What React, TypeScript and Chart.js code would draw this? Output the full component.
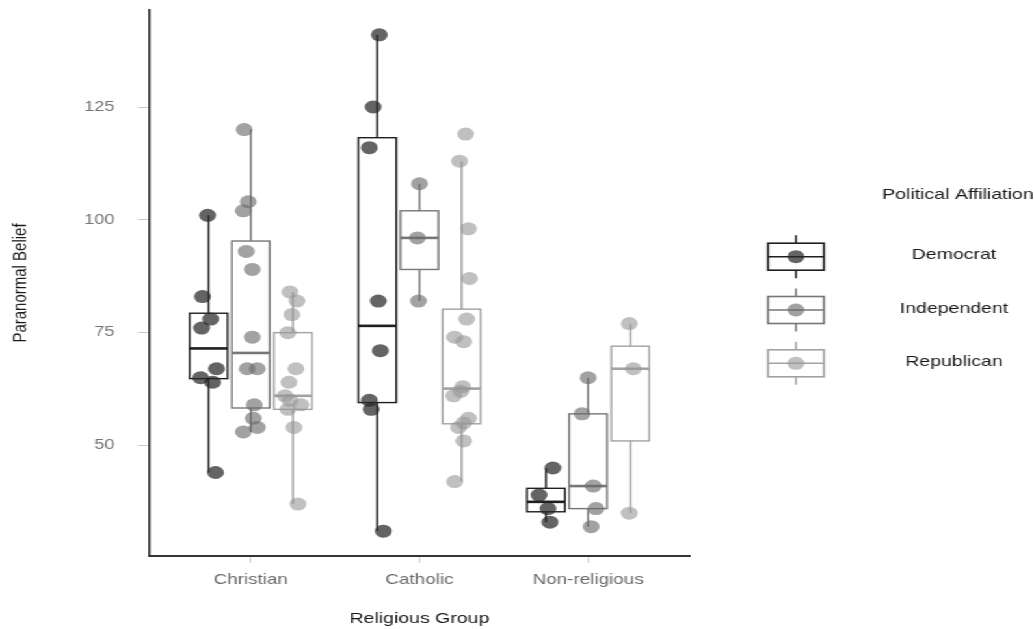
import React, { useEffect, useRef } from "react";
import { Chart, registerables } from "chart.js";

Chart.register(...registerables);

const categories = ["Christian", "Catholic", "Non-religious"];
const affiliations = ["Democrat", "Independent", "Republican"];
const yTickValues = [50, 75, 100, 125];

// Paranormal belief scores per religious group (Christian, Catholic, Non-religious)
const democratScores = [
  [101, 83, 78, 76, 67, 65, 64, 44],
  [141, 125, 116, 82, 71, 60, 58, 31],
  [45, 39, 36, 33],
];
const democratJitter = [
  [-0.006, -0.036, 0.012, -0.041, 0.047, -0.047, 0.024, 0.041],
  [0.012, -0.024, -0.047, 0.006, 0.018, -0.047, -0.036, 0.036],
  [0.041, -0.041, 0.012, 0.024],
];
const independentScores = [
  [120, 104, 102, 93, 89, 74, 67, 67, 59, 56, 54, 53],
  [108, 96, 82],
  [65, 57, 41, 36, 32],
];
const independentJitter = [
  [-0.039, -0.015, -0.044, -0.027, 0.009, 0.009, -0.021, 0.039, 0.021, 0.015, 0.039, -0.044],
  [0, -0.012, -0.006],
  [0, -0.036, 0.03, 0.047, 0.018],
];
const republicanScores = [
  [84, 82, 79, 75, 67, 64, 61, 60, 59, 58, 54, 37],
  [119, 113, 98, 87, 78, 74, 73, 63, 62, 61, 56, 55, 54, 51, 42],
  [77, 67, 35],
];
const republicanJitter = [
  [-0.018, 0.024, -0.006, -0.03, 0.018, -0.024, -0.047, -0.018, 0.047, -0.03, 0.006, 0.03],
  [0.024, -0.012, 0.041, 0.047, 0.03, -0.041, 0.012, 0.006, -0.006, -0.047, 0.041, 0.012, -0.018, 0.012, -0.041],
  [-0.006, 0.018, -0.006],
];

// Box statistics: [lower whisker, Q1, median, Q3, upper whisker]
const democratBoxes = [
  [44, 64.8, 71.5, 79.3, 101],
  [31, 59.5, 76.5, 118.2, 141],
  [33, 35.3, 37.5, 40.5, 45],
];
const independentBoxes = [
  [53, 58.3, 70.5, 95.3, 120],
  [82, 89, 96, 102, 108],
  [32, 36, 41, 57, 65],
];
const republicanBoxes = [
  [37, 58, 61, 75, 84],
  [42, 54.8, 62.6, 80.2, 113],
  [35, 51, 67, 72, 77],
];

const allScores = [democratScores, independentScores, republicanScores];
const allJitter = [democratJitter, independentJitter, republicanJitter];
const allBoxes = [democratBoxes, independentBoxes, republicanBoxes];

const groupOffsets = [-0.25, 0, 0.25];
const BOX_WIDTH = 0.225;
const boxColors = ["#1f1f1f", "#767676", "#a2a2a2"];
const pointColors = ["rgba(40,40,40,0.72)", "rgba(105,105,105,0.62)", "rgba(150,150,150,0.6)"];

const FONT = "'Liberation Sans', Arial, Helvetica, sans-serif";
const CW = 795;
const CH = 629;
const STRETCH = 1034 / CW;

const boxPlugin = {
  id: "boxes",
  beforeDatasetsDraw(chart: any) {
    const { ctx } = chart;
    const xs = chart.scales.x;
    const ys = chart.scales.y;
    ctx.save();
    allBoxes.forEach((boxes, gi) => {
      boxes.forEach((s, ci) => {
        const cx = xs.getPixelForValue(ci + 1 + groupOffsets[gi]);
        const half = (xs.getPixelForValue(BOX_WIDTH) - xs.getPixelForValue(0)) / 2;
        const [lo, q1, med, q3, hi] = s.map((v) => ys.getPixelForValue(v));
        ctx.strokeStyle = boxColors[gi];
        ctx.lineWidth = 1.5;
        ctx.beginPath();
        ctx.moveTo(cx, hi);
        ctx.lineTo(cx, q3);
        ctx.moveTo(cx, q1);
        ctx.lineTo(cx, lo);
        ctx.stroke();
        ctx.fillStyle = "#ffffff";
        ctx.fillRect(cx - half, q3, 2 * half, q1 - q3);
        ctx.lineWidth = 1.4;
        ctx.strokeRect(cx - half, q3, 2 * half, q1 - q3);
        ctx.lineWidth = 2.6;
        ctx.beginPath();
        ctx.moveTo(cx - half, med);
        ctx.lineTo(cx + half, med);
        ctx.stroke();
      });
    });
    ctx.restore();
  },
};

const legendPlugin = {
  id: "affLegend",
  afterDraw(chart: any) {
    const { ctx } = chart;
    ctx.save();
    ctx.textAlign = "center";
    ctx.textBaseline = "middle";
    ctx.fillStyle = "#1a1a1a";
    ctx.font = `15px ${FONT}`;
    ctx.fillText("Political Affiliation", 736.5, 195);
    affiliations.forEach((name, i) => {
      const cy = 256.7 + i * 53.3;
      const cx = 612;
      const hw = 21.5;
      const hh = 13.5;
      ctx.strokeStyle = boxColors[i];
      ctx.lineWidth = 1.5;
      ctx.beginPath();
      ctx.moveTo(cx, cy - hh - 8);
      ctx.lineTo(cx, cy - hh);
      ctx.moveTo(cx, cy + hh);
      ctx.lineTo(cx, cy + hh + 8);
      ctx.stroke();
      ctx.fillStyle = "#ffffff";
      ctx.fillRect(cx - hw, cy - hh, 2 * hw, 2 * hh);
      ctx.lineWidth = 1.6;
      ctx.strokeRect(cx - hw, cy - hh, 2 * hw, 2 * hh);
      ctx.beginPath();
      ctx.moveTo(cx - hw, cy);
      ctx.lineTo(cx + hw, cy);
      ctx.stroke();
      ctx.fillStyle = pointColors[i];
      ctx.beginPath();
      ctx.arc(cx, cy, 6.5, 0, Math.PI * 2);
      ctx.fill();
      ctx.fillStyle = "#1a1a1a";
      ctx.font = `15px ${FONT}`;
      ctx.fillText(name, 733.5, cy - 1.5);
    });
    ctx.restore();
  },
};

export default function App() {
  const ref = useRef<HTMLCanvasElement>(null);
  useEffect(() => {
    if (!ref.current) return;
    Chart.defaults.font.family = FONT;
    const datasets = affiliations.map((name, gi) => ({
      label: name,
      data: allScores[gi].flatMap((vals, ci) =>
        vals.map((v, j) => ({ x: ci + 1 + groupOffsets[gi] + allJitter[gi][ci][j], y: v }))
      ),
      backgroundColor: pointColors[gi],
      borderWidth: 0,
      pointRadius: 6.5,
      pointHoverRadius: 6.5,
    }));
    const chart = new Chart(ref.current, {
      type: "scatter",
      data: { datasets },
      options: {
        animation: false,
        responsive: false,
        devicePixelRatio: 1,
        layout: { padding: { left: 0, right: CW - 530, top: 10, bottom: 0 } },
        plugins: { legend: { display: false }, tooltip: { enabled: false } },
        events: [],
        scales: {
          x: {
            type: "linear",
            min: 0.4,
            max: 3.6,
            afterBuildTicks: (axis: any) => {
              axis.ticks = categories.map((_, i) => ({ value: i + 1 }));
            },
            afterFit: (scale: any) => {
              scale.height = CH - 556;
              scale.paddingLeft = 0;
              scale.paddingRight = 0;
            },
            ticks: {
              callback: (v: any) => categories[Math.round(Number(v)) - 1] ?? "",
              color: "#6a6a6a",
              font: { size: 14.5, family: FONT },
              padding: 8,
              maxRotation: 0,
              autoSkip: false,
            },
            grid: {
              display: true,
              drawOnChartArea: false,
              drawTicks: true,
              tickLength: 7,
              tickColor: "#cccccc",
              tickWidth: 1,
            },
            border: { display: true, color: "#333333", width: 2 },
            title: {
              display: true,
              text: "Religious Group",
              color: "#1a1a1a",
              font: { size: 15, family: FONT },
              padding: { top: 0, bottom: 1 },
            },
          },
          y: {
            type: "linear",
            min: 25.5,
            max: 146.5,
            afterBuildTicks: (axis: any) => {
              axis.ticks = yTickValues.map((v) => ({ value: v }));
            },
            afterFit: (scale: any) => {
              scale.width = 115;
              scale.paddingTop = 0;
              scale.paddingBottom = 0;
            },
            ticks: {
              color: "#777777",
              font: { size: 14, family: FONT },
              padding: 18,
            },
            grid: {
              display: true,
              drawOnChartArea: false,
              drawTicks: true,
              tickLength: 9,
              tickColor: "#cccccc",
              tickWidth: 1,
            },
            border: { display: true, color: "#333333", width: 1.6 },
            title: {
              display: true,
              text: "Paranormal Belief",
              color: "#1a1a1a",
              font: { size: 15, family: FONT },
              padding: { top: 7, bottom: 0 },
            },
          },
        },
      },
      plugins: [boxPlugin, legendPlugin],
    } as any);
    return () => chart.destroy();
  }, []);
  return (
    <div
      style={{
        position: "absolute",
        left: 0,
        top: 0,
        width: CW,
        height: CH,
        transform: `scaleX(${STRETCH})`,
        transformOrigin: "0 0",
        background: "#ffffff",
      }}
    >
      <canvas ref={ref} width={CW} height={CH} style={{ display: "block" }} />
    </div>
  );
}
